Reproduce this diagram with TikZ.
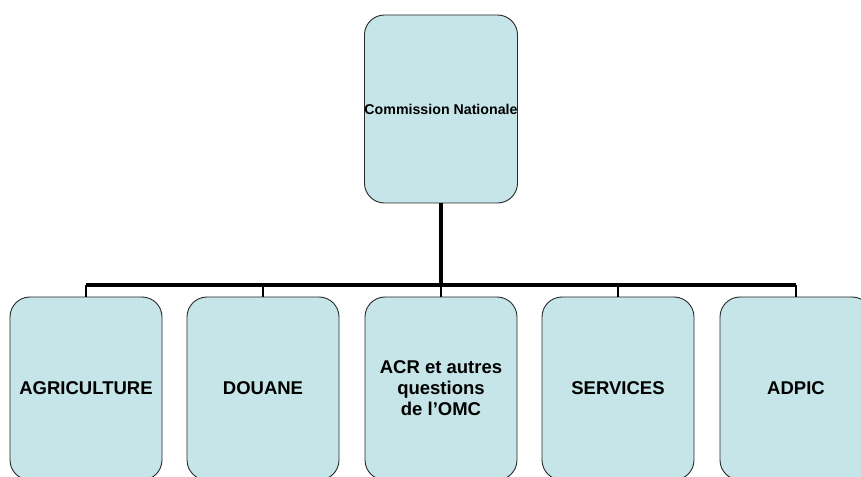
\documentclass[tikz,border=0pt]{standalone}
\usepackage{fontspec}
\setmainfont{Liberation Sans}
\definecolor{boxfill}{RGB}{197,229,232}
\definecolor{boxline}{RGB}{40,40,40}
\tikzset{
  orgbox/.style={draw=boxline, line width=0.9bp, fill=boxfill, rounded corners=20bp,
    minimum width=152bp, inner sep=0pt, align=center, font=\bfseries\fontsize{18.5bp}{21bp}\selectfont},
  conn/.style={line width=3.3bp, draw=black},
  stub/.style={line width=2.2bp, draw=black}
}
\begin{document}
\begin{tikzpicture}[x=1bp,y=-1bp]
\useasboundingbox (0,0) rectangle (861,477);
\clip (0,0) rectangle (861,477);
\fill[white] (0,0) rectangle (861,477);
\node[orgbox, minimum height=188bp, font=\bfseries\fontsize{14.2bp}{17bp}\selectfont] (top) at (441,109) {Commission Nationale};
\foreach \n/\x/\t in {agri/86/AGRICULTURE, dou/263/DOUANE, acr/441/{ACR et autres\\questions\\ de l'OMC}, ser/618/SERVICES, adp/796/ADPIC}
  \node[orgbox, minimum height=183bp] (\n) at (\x,388.5) {\t};
\coordinate (hub) at (441,285);
\draw[conn] (top.south) -- (hub);
\draw[conn] (agri.north |- hub) -- (adp.north |- hub);
\foreach \n in {agri,dou,acr,ser,adp}
  \draw[stub] (\n.north |- hub) -- (\n.north);
\end{tikzpicture}
\end{document}
